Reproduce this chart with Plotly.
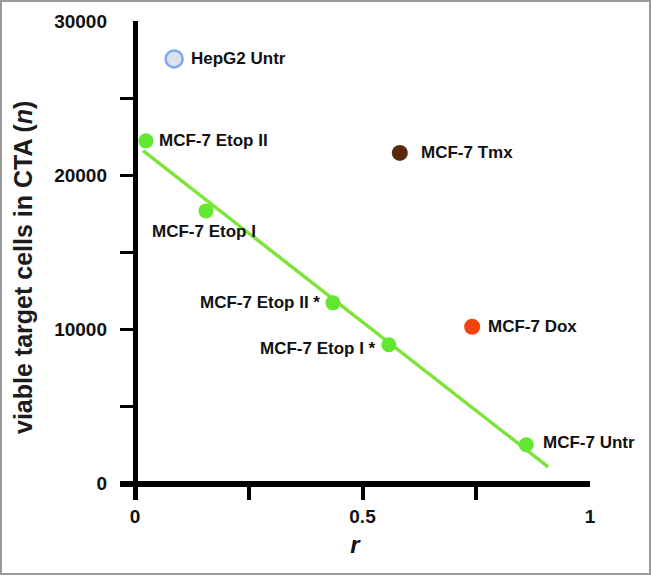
import numpy as np
import plotly.graph_objects as go

# ---- data ----
labels = ["HepG2 Untr", "MCF-7 Etop II", "MCF-7 Etop I", "MCF-7 Tmx",
          "MCF-7 Etop II *", "MCF-7 Etop I *", "MCF-7 Dox", "MCF-7 Untr"]
r_vals = [0.086, 0.024, 0.156, 0.582, 0.435, 0.558, 0.741, 0.860]
n_vals = [27540, 22230, 17690, 21450, 11730, 9010, 10180, 2530]
groups = ["hepg2", "fit", "fit", "tmx", "fit", "fit", "dox", "fit"]
fit_r_extent = [0.0176, 0.908]

x_tick_vals = [0, 0.25, 0.5, 0.75, 1]
x_tick_text = ["0", "", "0.5", "", "1"]
y_tick_vals = [0, 5000, 10000, 15000, 20000, 25000, 30000]
y_tick_text = ["0", "", "10000", "", "20000", "", "30000"]
x_title = "<b><i>r</i></b>"
y_title = "<b>viable target cells in CTA (<i>n</i>)</b>"

# ---- styling ----
W, H = 651, 575
ML, MR, MT, MB = 120, 61, 21, 75
GREEN_PT = "#62e832"
GREEN_LN = "#7fe43a"
FONT = "Liberation Sans, Arial, sans-serif"

fig = go.Figure()

# regression line through green points
fx = [x for x, g in zip(r_vals, groups) if g == "fit"]
fy = [y for y, g in zip(n_vals, groups) if g == "fit"]
slope, intercept = np.polyfit(fx, fy, 1)
lx = np.array(fit_r_extent)
fig.add_trace(go.Scatter(x=lx, y=slope * lx + intercept, mode="lines",
                         line=dict(color=GREEN_LN, width=3.5), hoverinfo="skip"))

styles = {
    "fit": dict(color=GREEN_PT, size=15, line=dict(width=0)),
    "hepg2": dict(color="#dde2e8", size=17, line=dict(color="#7fa8f0", width=2.5)),
    "tmx": dict(color="#5b2a0e", size=16, line=dict(width=0)),
    "dox": dict(color="#f2430f", size=16, line=dict(width=0)),
}
for g in ["fit", "hepg2", "tmx", "dox"]:
    xs = [x for x, gg in zip(r_vals, groups) if gg == g]
    ys = [y for y, gg in zip(n_vals, groups) if gg == g]
    fig.add_trace(go.Scatter(x=xs, y=ys, mode="markers", marker=styles[g],
                             cliponaxis=False))

# label placement: (side, pixel offset from point, vertical shift)
placement = {
    "HepG2 Untr": ("right", 15, 0),
    "MCF-7 Etop II": ("right", 11, 0),
    "MCF-7 Etop I": ("below", -2, -9),
    "MCF-7 Tmx": ("right", 19, 0),
    "MCF-7 Etop II *": ("left", -11, 0),
    "MCF-7 Etop I *": ("left", -11, -4),
    "MCF-7 Dox": ("right", 14, 0),
    "MCF-7 Untr": ("right", 15, 2),
}
for lab, x, y in zip(labels, r_vals, n_vals):
    where, xs_, ys_ = placement[lab]
    kw = dict(x=x, y=y, text="<b>" + lab + "</b>", showarrow=False,
              font=dict(family=FONT, size=17, color="#111"),
              xshift=xs_, yshift=ys_)
    if where == "right":
        kw.update(xanchor="left", yanchor="middle")
    elif where == "left":
        kw.update(xanchor="right", yanchor="middle")
    else:
        kw.update(xanchor="center", yanchor="top")
    fig.add_annotation(**kw)

pw = W - ML - MR
ph = H - MT - MB

# y-axis title (placed as paper annotation to match the original's position)
fig.add_annotation(xref="paper", yref="paper", x=(23 - ML) / pw,
                   y=1 - (268 - MT) / ph, text=y_title, textangle=-90,
                   showarrow=False, xanchor="center", yanchor="middle",
                   font=dict(family=FONT, size=25, color="#1c1c1c"))

# outer gray frame
fig.add_shape(type="rect", xref="paper", yref="paper",
              x0=(1 - ML) / pw, x1=(W - 1 - ML) / pw,
              y0=(-(MB - 1)) / ph, y1=1 + (MT - 1) / ph,
              line=dict(color="#9a9a9a", width=2))

fig.update_layout(
    width=W, height=H, margin=dict(l=ML, r=MR, t=MT, b=MB, autoexpand=False),
    paper_bgcolor="white", plot_bgcolor="white", showlegend=False,
    font=dict(family=FONT, color="#111"),
)
fig.update_xaxes(
    range=[-15 / 455, 1.0], showgrid=False, showline=False, automargin=False,
    zeroline=True, zerolinecolor="#000", zerolinewidth=4.5,
    tickmode="array", tickvals=x_tick_vals, ticktext=x_tick_text,
    ticks="inside", ticklen=16, tickwidth=3.5, tickcolor="#000",
    tickfont=dict(family=FONT, size=19, color="#111", weight="bold"),
    ticklabelstandoff=3,
    title=dict(text=x_title, font=dict(family=FONT, size=24, color="#111"),
               standoff=10),
)
fig.update_yaxes(
    range=[-1050, 30000], showgrid=False, showline=False, automargin=False,
    zeroline=True, zerolinecolor="#000", zerolinewidth=6,
    tickmode="array", tickvals=y_tick_vals, ticktext=y_tick_text,
    ticks="inside", ticklen=15, tickwidth=3, tickcolor="#000",
    tickfont=dict(family=FONT, size=19, color="#111", weight="bold"),
    ticklabelstandoff=12,
)

fig.write_html("out.html", config={"displayModeBar": False},
               post_script="document.body.style.margin='0';")
